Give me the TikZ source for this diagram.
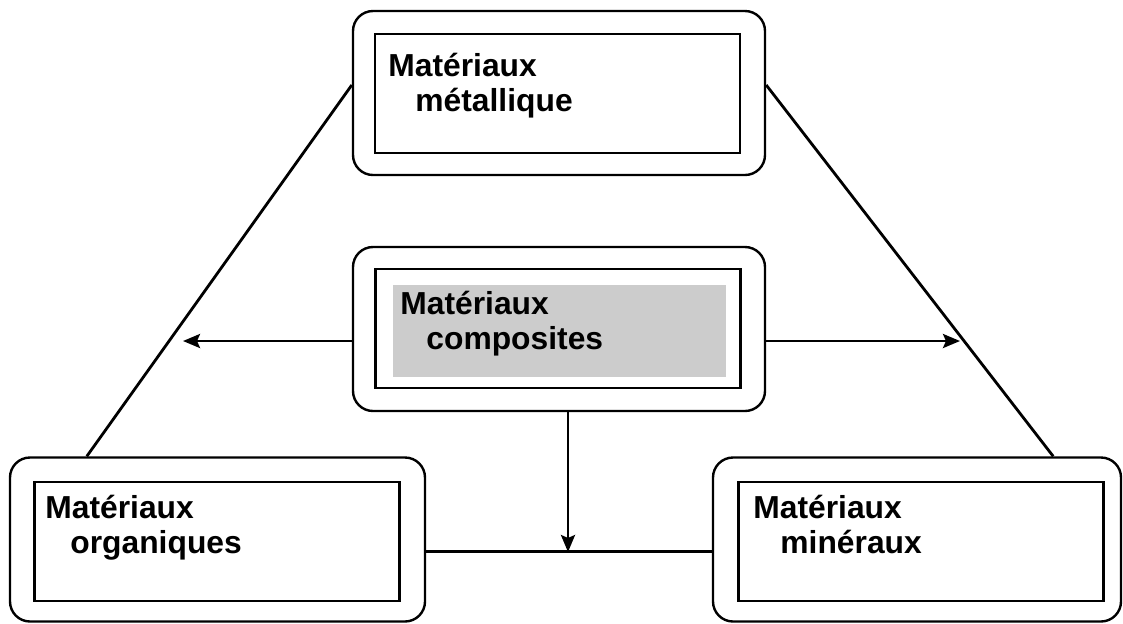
\documentclass[tikz,border=0pt]{standalone}
\usepackage{fontspec}
\setmainfont{Liberation Sans}
\usetikzlibrary{positioning,arrows.meta}
\definecolor{compgray}{RGB}{204,204,204}

\begin{document}
\begin{tikzpicture}[x=0.5pt,y=-0.5pt,
    outer/.style={draw,line width=1.2pt,rounded corners=10pt,minimum width=206pt,minimum height=82pt,inner sep=0pt},
    inner/.style={draw,line width=1.2pt,minimum width=182.5pt,minimum height=59.5pt,inner sep=0pt},
    label/.style={inner sep=0pt,anchor=base west,align=left,font=\fontsize{15.9}{17.5}\selectfont\bfseries},
    link/.style={line width=1.4pt},
    arrow/.style={line width=1.4pt,-{Stealth[length=8.5pt,width=7pt,inset=1.5pt]}}]
  \useasboundingbox (0,0) rectangle (1123,623);
  % outer frames
  \node[outer] (metal) at (559,93) {};
  \node[outer] (comp) at (559,329) {};
  \node[outer,minimum width=207.5pt] (orga) at (217.5,539.5) {};
  \node[outer,minimum width=204pt] (mine) at (917,539.5) {};
  % inner frames
  \node[inner] (metalin) at (557.5,93.5) {};
  \node[inner] (compin) at (558,328.5) {};
  \node[inner] (orgain) at (217,541.5) {};
  \node[inner] (minein) at (921,541.5) {};
  \node[fill=compgray,minimum width=166.5pt,minimum height=46pt,inner sep=0pt] (compfill) at (559.5,331) {};
  % labels (base = second line)
  \node[label] (metaltxt) at (388,111) {Matériaux\\\hspace{13.5pt}métallique};
  \node[label] (comptxt) at (400,349) {Matériaux\\\hspace{13pt}composites};
  \node[label] (orgatxt) at (45,553) {Matériaux\\\hspace{12.5pt}organiques};
  \node[label] (minetxt) at (753,553) {Matériaux\\\hspace{13.5pt}minéraux};
  % connectors
  \coordinate (lefttip) at (183,341);
  \coordinate (righttip) at (960,341);
  \coordinate (junction) at (568,552);
  \draw[link] ([yshift=4pt]metal.west) -- ([xshift=39pt]orga.north west);
  \draw[link] ([yshift=4pt]metal.east) -- ([xshift=-34.5pt]mine.north east);
  \draw[arrow] ([yshift=-6pt]comp.west) -- (lefttip);
  \draw[arrow] ([yshift=-6pt]comp.east) -- (righttip);
  \draw[link] ([yshift=-6pt]orga.east) -- ([yshift=-6pt]mine.west);
  \draw[arrow] ([xshift=4.5pt]comp.south) -- (junction);
\end{tikzpicture}
\end{document}
